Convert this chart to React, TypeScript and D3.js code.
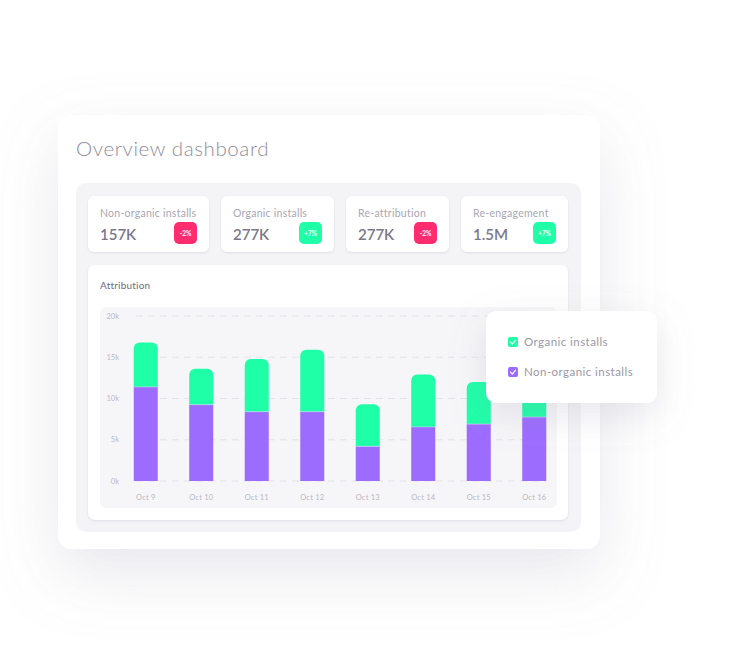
import React from "react";
import * as d3 from "d3";

const categories = ["Oct 9", "Oct 10", "Oct 11", "Oct 12", "Oct 13", "Oct 14", "Oct 15", "Oct 16"];
const nonOrganic = [11400, 9250, 8400, 8400, 4200, 6550, 6900, 7750];
const organic = [5400, 4350, 6400, 7500, 5100, 6350, 5100, 4750];
const yTicks = [0, 5000, 10000, 15000, 20000];
const kpiLabels = ["Non-organic installs", "Organic installs", "Re-attribution", "Re-engagement"];
const kpiValues = ["157K", "277K", "277K", "1.5M"];
const kpiChanges = ["-2%", "+7%", "-2%", "+7%"];
const legendLabels = ["Organic installs", "Non-organic installs"];

const GREEN = "#1effa8";
const PURPLE = "#9c6cff";
const PINK = "#ff2d6f";
const FONT = "Lato, 'Open Sans', sans-serif";

export default function App() {
  const x = d3.scaleBand<string>().domain(categories).range([118, 562]).paddingInner(0.567).paddingOuter(0.2835);
  const y = d3.scaleLinear().domain([0, 20000]).range([481, 316]);
  const data = categories.map((c, i) => ({ cat: c, non: nonOrganic[i], org: organic[i] }));
  const stack = d3.stack<any>().keys(["non", "org"]);
  const series = stack(data);

  const cardX = [88, 221, 346, 461];
  const cardW = [121, 113, 103, 107];

  const topRounded = (x0: number, y0: number, w: number, h: number, r: number) => {
    const p = d3.path();
    p.moveTo(x0, y0 + h);
    p.lineTo(x0, y0 + r);
    p.arcTo(x0, y0, x0 + r, y0, r);
    p.lineTo(x0 + w - r, y0);
    p.arcTo(x0 + w, y0, x0 + w, y0 + r, r);
    p.lineTo(x0 + w, y0 + h);
    p.closePath();
    return p.toString();
  };

  return (
    <svg width={732} height={665} style={{ position: "absolute", left: 0, top: 0, background: "#fff" }} fontFamily={FONT}>
      <defs>
        <filter id="bigShadow" x="-30%" y="-30%" width="160%" height="180%">
          <feDropShadow dx="0" dy="24" stdDeviation="32" floodColor="#8a8aa0" floodOpacity="0.2" />
        </filter>
        <filter id="legendShadow" x="-50%" y="-50%" width="200%" height="240%">
          <feDropShadow dx="0" dy="12" stdDeviation="18" floodColor="#8a8aa0" floodOpacity="0.2" />
        </filter>
        <filter id="smallShadow" x="-10%" y="-10%" width="120%" height="130%">
          <feDropShadow dx="0" dy="1" stdDeviation="1" floodColor="#b0b0c8" floodOpacity="0.35" />
        </filter>
      </defs>

      {/* outer card */}
      <rect x={58} y={115} width={542} height={434} rx={14} fill="#fff" filter="url(#bigShadow)" />
      <text x={76} y={156} fontSize={20.5} fill="#8f8c9c" fontWeight={300} letterSpacing={0.6}>Overview dashboard</text>

      {/* gray panel */}
      <rect x={76} y={183} width={505} height={349} rx={10} fill="#f4f4f6" />

      {/* KPI cards */}
      {kpiLabels.map((lab, i) => {
        const cx = cardX[i];
        const w = cardW[i];
        const up = kpiChanges[i].startsWith("+");
        return (
          <g key={lab}>
            <rect x={cx} y={196} width={w} height={56} rx={6} fill="#fff" filter="url(#smallShadow)" />
            <text x={cx + 12} y={217} fontSize={10.5} fill="#a9a6b6" letterSpacing={0.25}>{lab}</text>
            <text x={cx + 12} y={240} fontSize={15} fontWeight={600} fill="#7a7789">{kpiValues[i]}</text>
            <rect x={cx + w - 35} y={222} width={23} height={22} rx={5} fill={up ? GREEN : PINK} />
            <text x={cx + w - 23.5} y={235.5} fontSize={6.5} fontWeight={700} fill="#fff" textAnchor="middle">{kpiChanges[i]}</text>
          </g>
        );
      })}

      {/* chart card */}
      <rect x={88} y={265} width={480} height={255} rx={7} fill="#fff" filter="url(#smallShadow)" />
      <text x={100} y={289} fontSize={10} fill="#6f6c7d" letterSpacing={0.2}>Attribution</text>
      <rect x={100} y={307} width={457} height={201} rx={6} fill="#f6f6f8" />

      {/* grid and y ticks */}
      {yTicks.map((t) => (
        <g key={t}>
          <line x1={136} x2={546} y1={y(t)} y2={y(t)} stroke="#e3e3e9" strokeWidth={1} strokeDasharray="7 5" />
          <text x={119} y={y(t) + 2.5} fontSize={7.5} fill="#bbb8c6" textAnchor="end">{t / 1000 + "k"}</text>
        </g>
      ))}

      {/* bars */}
      {series.map((s) =>
        s.map((d: any, i: number) => {
          const x0 = x(categories[i]) as number;
          const w = x.bandwidth();
          const y0 = y(d[1]);
          const h = y(d[0]) - y(d[1]);
          if (s.key === "org") {
            return <path key={s.key + i} d={topRounded(x0, y0, w, h, 6)} fill={GREEN} />;
          }
          return <rect key={s.key + i} x={x0} y={y0} width={w} height={h} fill={PURPLE} />;
        })
      )}
      {data.map((d, i) => (
        <line key={"sep" + i} x1={x(d.cat) as number} x2={(x(d.cat) as number) + x.bandwidth()} y1={y(d.non)} y2={y(d.non)} stroke="#d8ccff" strokeWidth={0.6} />
      ))}

      {/* x labels */}
      {categories.map((c) => (
        <text key={c} x={(x(c) as number) + x.bandwidth() / 2} y={500} fontSize={7.5} fill="#b9b6c5" textAnchor="middle" letterSpacing={0.2}>{c}</text>
      ))}

      {/* legend popup */}
      <rect x={486} y={311} width={171} height={92} rx={10} fill="#fff" filter="url(#legendShadow)" />
      {legendLabels.map((l, i) => {
        const ly = 337 + i * 30;
        return (
          <g key={l}>
            <rect x={508} y={ly} width={10} height={10} rx={2} fill={i === 0 ? GREEN : PURPLE} />
            <path d={`M${510.5},${ly + 5.2} L${512.3},${ly + 7} L${515.6},${ly + 3.2}`} fill="none" stroke="#fff" strokeWidth={1.2} strokeLinecap="round" strokeLinejoin="round" />
            <text x={524} y={ly + 9} fontSize={11.5} fill="#9a97a8" letterSpacing={0.45}>{l}</text>
          </g>
        );
      })}
    </svg>
  );
}
